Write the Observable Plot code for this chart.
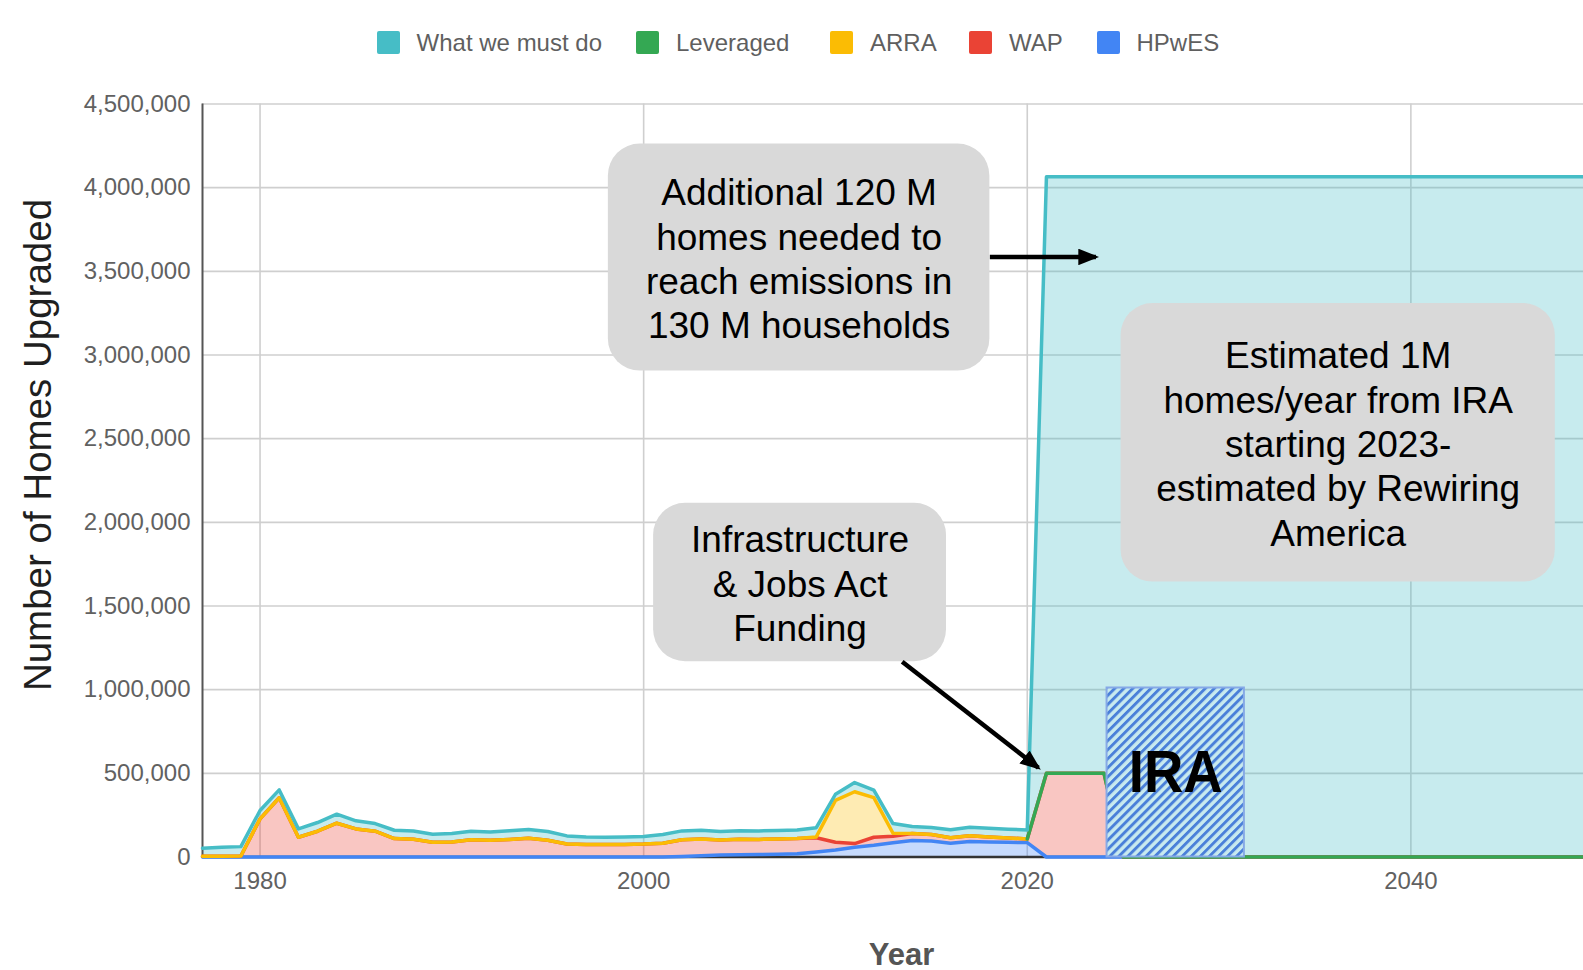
<!DOCTYPE html>
<html>
<head>
<meta charset="utf-8">
<script src="https://cdn.jsdelivr.net/npm/d3@7"></script>
<script src="https://cdn.jsdelivr.net/npm/@observablehq/plot@0.6"></script>
<style>
  body { margin: 0; background: #fff; }
  #page { position: relative; width: 1583px; height: 970px; overflow: hidden; font-family: "Liberation Sans", Arial, sans-serif; background: #fff; }
  #chart { position: absolute; left: 0; top: 0; }
  .leg { position: absolute; top: 31px; height: 23px; display: flex; align-items: center; font-size: 24px; color: #5f5f5f; white-space: nowrap; }
  .sw { width: 23px; height: 23px; border-radius: 2px; margin-right: 17px; flex: none; }
  #ytitle { position: absolute; left: 37.5px; top: 445px; transform: translate(-50%, -50%) rotate(-90deg); font-size: 38.5px; line-height: 1; color: #1f1f1f; white-space: nowrap; }
  #xtitle { position: absolute; left: 901.5px; top: 954px; transform: translate(-50%, -50%); font-size: 31px; font-weight: bold; line-height: 1; color: #555; white-space: nowrap; }
</style>
</head>
<body>
<div id="page">
  <div id="chart"></div>
  <div id="legend"></div>
  <div id="ytitle">Number of Homes Upgraded</div>
  <div id="xtitle">Year</div>
</div>
<script>
// ---------------- data ----------------
const years = [
  1977, 1978, 1979,
  1980, 1981, 1982, 1983, 1984, 1985, 1986, 1987, 1988, 1989,
  1990, 1991, 1992, 1993, 1994, 1995, 1996, 1997, 1998, 1999,
  2000, 2001, 2002, 2003, 2004, 2005, 2006, 2007, 2008, 2009,
  2010, 2011, 2012, 2013, 2014, 2015, 2016, 2017, 2018, 2019,
  2020, 2021, 2022, 2023, 2024, 2025, 2026, 2027, 2028, 2029,
  2030, 2031, 2032, 2033, 2034, 2035, 2036, 2037, 2038, 2039,
  2040, 2041, 2042, 2043, 2044, 2045, 2046, 2047, 2048, 2049,
  2050
];

const hpwes = [
  0, 0, 0,
  0, 0, 0, 0, 0, 0, 0, 0, 0, 0,
  0, 0, 0, 0, 0, 0, 0, 0, 0, 0,
  0, 0, 3000, 8000, 12000, 13000, 15000, 17000, 20000, 30000,
  42000, 58000, 70000, 85000, 98000, 95000, 82000, 92000, 90000, 88000,
  86000, 0, 0, 0, 0, 0, 0, 0, 0, 0,
  0, 0, 0, 0, 0, 0, 0, 0, 0, 0,
  0, 0, 0, 0, 0, 0, 0, 0, 0, 0,
  0
];

const wap = [
  4000, 5000, 6000,
  228000, 354000, 118000, 154000, 202000, 168000, 154000, 110000, 106000, 88000,
  90000, 103000, 100000, 105000, 112000, 100000, 78000, 75000, 75000, 75000,
  77000, 82000, 100000, 100000, 90000, 93000, 90000, 91000, 90000, 85000,
  46000, 22000, 48000, 39000, 42000, 40000, 33000, 35000, 30000, 26000,
  22000, 500000, 500000, 500000, 500000, 0, 0, 0, 0, 0,
  0, 0, 0, 0, 0, 0, 0, 0, 0, 0,
  0, 0, 0, 0, 0, 0, 0, 0, 0, 0,
  0
];

const arra = [
  0, 0, 0,
  0, 0, 0, 0, 0, 0, 0, 0, 0, 0,
  0, 0, 0, 0, 0, 0, 0, 0, 0, 0,
  0, 0, 0, 0, 0, 0, 0, 0, 0, 5000,
  250000, 310000, 237000, 18000, 0, 0, 0, 0, 0, 0,
  0, null, null, null, null, null, null, null, null, null,
  null, null, null, null, null, null, null, null, null, null,
  null, null, null, null, null, null, null, null, null, null,
  null
];

const leveraged = [
  null, null, null,
  null, null, null, null, null, null, null, null, null, null,
  null, null, null, null, null, null, null, null, null, null,
  null, null, null, null, null, null, null, null, null, null,
  null, null, null, null, null, null, null, null, null, null,
  0, 0, 0, 0, 0, 0, 0, 0, 0, 0,
  0, 0, 0, 0, 0, 0, 0, 0, 0, 0,
  0, 0, 0, 0, 0, 0, 0, 0, 0, 0,
  0
];

const mustDo = [
  49000, 53000, 56000,
  50000, 47000, 50000, 52000, 54000, 48000, 46000, 50000, 49000, 48000,
  50000, 51000, 50000, 52000, 53000, 52000, 48000, 44000, 43000, 44000,
  45000, 52000, 53000, 52000, 51000, 51000, 51000, 50000, 52000, 55000,
  37000, 55000, 45000, 58000, 42000, 41000, 48000, 51000, 52000, 52000,
  54000, 3565000, 3565000, 3565000, 3565000, 4065000, 4065000, 4065000, 4065000, 4065000,
  4065000, 4065000, 4065000, 4065000, 4065000, 4065000, 4065000, 4065000, 4065000, 4065000,
  4065000, 4065000, 4065000, 4065000, 4065000, 4065000, 4065000, 4065000, 4065000, 4065000,
  4065000
];

const seriesNames = ["What we must do", "Leveraged", "ARRA", "WAP", "HPwES"];
const seriesColors = ["#46bdc6", "#34a853", "#fbbc04", "#ea4335", "#4285f4"];

const yTicks = [0, 500000, 1000000, 1500000, 2000000, 2500000, 3000000, 3500000, 4000000, 4500000];
const xTicks = [1980, 2000, 2020, 2040];

// annotation callouts (in data units: years / homes)
const calloutText = [
  "Additional 120 M\nhomes needed to\nreach emissions in\n130 M households",
  "Estimated 1M\nhomes/year from IRA\nstarting 2023-\nestimated by Rewiring\nAmerica",
  "Infrastructure\n& Jobs Act\nFunding"
];
const calloutYearFrom = [1998.16, 2024.89, 2000.52];
const calloutYearTo   = [2018.05, 2047.53, 2015.79];
const calloutHigh     = [4261000, 3308000, 2114000];
const calloutLow      = [2904000, 1643000, 1166500];

const arrowYearFrom  = [2018.05, 2013.48];
const arrowValueFrom = [3586000, 1166500];
const arrowYearTo    = [2023.58, 2020.58];
const arrowValueTo   = [3586000, 533000];

const iraLabel = ["IRA"];
const iraYearFrom = [2024.16];
const iraYearTo = [2031.32];
const iraValue = [1010000];

// ---------------- build tables ----------------
const stackOrder = [["HPwES", hpwes], ["WAP", wap], ["ARRA", arra], ["Leveraged", leveraged], ["What we must do", mustDo]];
const rows = [];
const cum = years.map(() => 0);
for (const [name, vals] of stackOrder) {
  years.forEach((yr, i) => {
    const v = vals[i];
    const y1 = cum[i];
    const y2 = y1 + (v ?? 0);
    cum[i] = y2;
    rows.push({year: yr, series: name, y1, y2, top: v == null ? NaN : y2});
  });
}

const callouts = calloutText.map((t, i) => ({
  text: t, x1: calloutYearFrom[i], x2: calloutYearTo[i], y1: calloutLow[i], y2: calloutHigh[i]
}));
const arrows = arrowYearFrom.map((x, i) => ({x1: x, y1: arrowValueFrom[i], x2: arrowYearTo[i], y2: arrowValueTo[i]}));
const ira = iraLabel.map((t, i) => ({text: t, x1: iraYearFrom[i], x2: iraYearTo[i], y1: 0, y2: iraValue[i]}));

const font = '"Liberation Sans", Arial, sans-serif';

const chart = Plot.plot({
  width: 1583,
  height: 970,
  marginTop: 103.5,
  marginBottom: 113.5,
  marginLeft: 202,
  marginRight: 0,
  style: {fontFamily: font, fontSize: "24px", color: "#616161", background: "#fff"},
  x: {domain: [1977, 2049], label: null},
  y: {domain: [0, 4500000], label: null},
  color: {domain: seriesNames, range: seriesColors},
  marks: [
    Plot.gridY(yTicks, {stroke: "#cfcfcf", strokeOpacity: 1, strokeWidth: 1.6}),
    Plot.gridX(xTicks, {stroke: "#cfcfcf", strokeOpacity: 1, strokeWidth: 1.6}),
    Plot.areaY(rows, {x: "year", y1: "y1", y2: "y2", z: "series", fill: "series", fillOpacity: 0.3}),
    Plot.ruleY([0], {stroke: "#333", strokeWidth: 2.5}),
    Plot.ruleX([1977], {stroke: "#555", strokeWidth: 2}),
    Plot.lineY(rows, {x: "year", y: "top", z: "series", stroke: "series", strokeWidth: 3.5}),
    Plot.rect(ira, {x1: "x1", x2: "x2", y1: "y1", y2: "y2", fill: "#c8eaef", stroke: "#86a9e6", strokeWidth: 2, ariaDescription: "ira-box"}),
    Plot.text(ira, {x: d => (d.x1 + d.x2) / 2, y: d => d.y2 / 2, text: "text", fontSize: 60, fontWeight: "bold",
      fontFamily: font, fill: "#000", lineAnchor: "middle", ariaDescription: "ira-label"}),
    Plot.rect(callouts, {x1: "x1", x2: "x2", y1: "y1", y2: "y2", rx: 32, fill: "#d9d9d9"}),
    Plot.text(callouts, {x: d => (d.x1 + d.x2) / 2, y: d => (d.y1 + d.y2) / 2, text: "text", fontSize: 37,
      lineHeight: 1.2, fill: "#000", fontFamily: font, textAnchor: "middle", lineAnchor: "middle"}),
    Plot.link(arrows, {x1: "x1", y1: "y1", x2: "x2", y2: "y2", stroke: "#000", strokeWidth: 4.5, ariaDescription: "callout-arrow"}),
    Plot.axisY(yTicks, {tickSize: 0, tickPadding: 12, tickFormat: d3.format(","), fontSize: 24, label: null}),
    Plot.axisX(xTicks, {tickSize: 0, tickPadding: 15, tickFormat: d => String(d), fontSize: 24, label: null})
  ]
});

// defs: hatch pattern and filled arrowhead
const svgSel = d3.select(chart);
const defs = svgSel.insert("defs", ":first-child");
const pat = defs.append("pattern").attr("id", "iraHatch").attr("patternUnits", "userSpaceOnUse")
  .attr("width", 6.4).attr("height", 6.4).attr("patternTransform", "rotate(45)");
pat.append("rect").attr("width", 6.4).attr("height", 6.4).attr("fill", "#c8eaef");
pat.append("rect").attr("width", 2.9).attr("height", 6.4).attr("fill", "#4a80d9");
const mk = defs.append("marker").attr("id", "arrowHead").attr("viewBox", "0 0 10 8")
  .attr("refX", 8.5).attr("refY", 4).attr("markerWidth", 4.6).attr("markerHeight", 3.7)
  .attr("orient", "auto").attr("markerUnits", "strokeWidth");
mk.append("path").attr("d", "M0,0L10,4L0,8Z").attr("fill", "#000");

function markGroup(desc) {
  return svgSel.selectAll("g").filter(function () {
    return this.getAttribute("aria-description") === desc;
  });
}
markGroup("ira-box").attr("fill", "url(#iraHatch)").selectAll("rect").attr("fill", "url(#iraHatch)");
markGroup("callout-arrow").selectAll("path, line").attr("marker-end", "url(#arrowHead)");
markGroup("ira-label").selectAll("text").attr("textLength", 94).attr("lengthAdjust", "spacingAndGlyphs");

document.getElementById("chart").appendChild(chart);

// legend
const legendLeft = [376.6, 636, 830, 969, 1096.5];
const legend = document.getElementById("legend");
seriesNames.forEach((name, i) => {
  const item = document.createElement("div");
  item.className = "leg";
  item.style.left = legendLeft[i] + "px";
  const sw = document.createElement("div");
  sw.className = "sw";
  sw.style.background = seriesColors[i];
  const label = document.createElement("span");
  label.textContent = name;
  item.appendChild(sw);
  item.appendChild(label);
  legend.appendChild(item);
});
</script>
</body>
</html>
